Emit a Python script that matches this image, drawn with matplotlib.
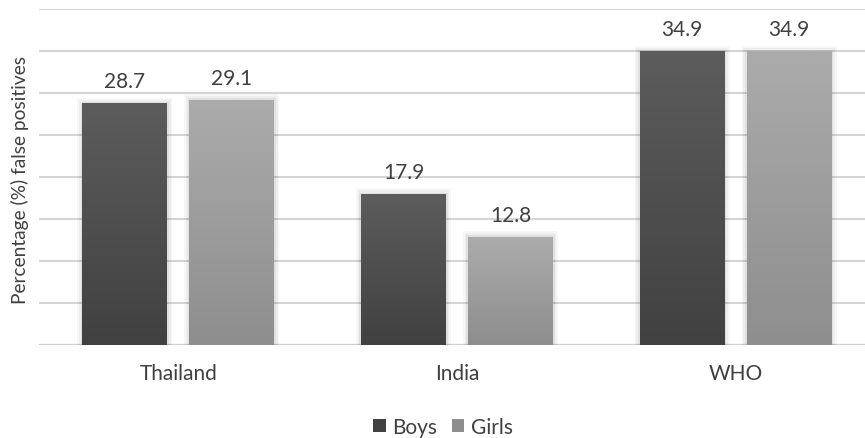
import numpy as np
import matplotlib
matplotlib.use("Agg")
import matplotlib.pyplot as plt
from matplotlib.patches import Rectangle

plt.rcParams['font.family'] = ['Lato', 'DejaVu Sans']

categories = ["Thailand", "India", "WHO"]
series_names = ["Boys", "Girls"]
boys = [28.7, 17.9, 34.9]
girls = [29.1, 12.8, 34.9]

W, H = 865, 439
fig = plt.figure(figsize=(W / 100, H / 100), dpi=100)
ax = fig.add_axes([39 / W, (H - 346) / H, (875 - 39) / W, 336 / H])

ax.set_xlim(-0.5, 2.5)
ax.set_ylim(0, 40)

# horizontal gridlines, no tick labels
for yv in np.arange(5, 41, 5):
    ax.axhline(yv, color="#d4d4d4", lw=1.4, zorder=0)
ax.axhline(0, color="#cfcfcf", lw=1.6, zorder=1)
for s in ax.spines.values():
    s.set_visible(False)
ax.set_yticks([])
ax.tick_params(axis="x", length=0, pad=13, labelsize=15, labelcolor="#404040")
ax.set_xticks(range(len(categories)))
ax.set_xticklabels(categories)

bar_w = 0.305
offset = 0.192
styles = [("#5c5c5c", "#414141"), ("#ababab", "#8e8e8e")]
x = np.arange(len(categories))


def gradient_bar(xc, h, top_col, bot_col):
    x0, x1 = xc - bar_w / 2, xc + bar_w / 2
    # soft shadow
    for i, a in enumerate([0.05, 0.04, 0.03]):
        d = 0.006 * (i + 1)
        ax.add_patch(Rectangle((x0 - d, 0), bar_w + 2 * d, h + 0.25 * (i + 1),
                               facecolor="black", alpha=a, lw=0, zorder=2))
    t = np.array(matplotlib.colors.to_rgb(top_col))
    b = np.array(matplotlib.colors.to_rgb(bot_col))
    n = 64
    f = np.linspace(0, 1, n)[:, None]
    img = (b * (1 - f) + t * f)[:, None, :]
    ax.imshow(img, extent=(x0, x1, 0, h), origin="lower", aspect="auto",
              interpolation="bilinear", zorder=3)


for vals, (tc, bc), sign in zip([boys, girls], styles, [-1, 1]):
    for xi, v in zip(x, vals):
        xc = xi + sign * offset
        gradient_bar(xc, v, tc, bc)
        ax.text(xc, v + 1.5, f"{v:.1f}", ha="center", va="bottom",
                fontsize=15, color="#404040", zorder=4)

ax.set_xlim(-0.5, 2.5)
ax.set_ylim(0, 40)

fig.text(20 / W, 1 - 180 / H, "Percentage (%) false positives", rotation=90,
         ha="center", va="center", fontsize=13.8, color="#404040")

# legend
handles = [Rectangle((0, 0), 1, 1, facecolor=c[1], edgecolor="none") for c in styles]
fig.legend(handles, series_names, loc="center", bbox_to_anchor=(443 / W, 1 - 428 / H),
           ncol=2, frameon=False, fontsize=15, handlelength=0.6, handleheight=0.6,
           handletextpad=0.3, columnspacing=0.7, labelcolor="#404040")

fig.savefig("out.png", dpi=100)
